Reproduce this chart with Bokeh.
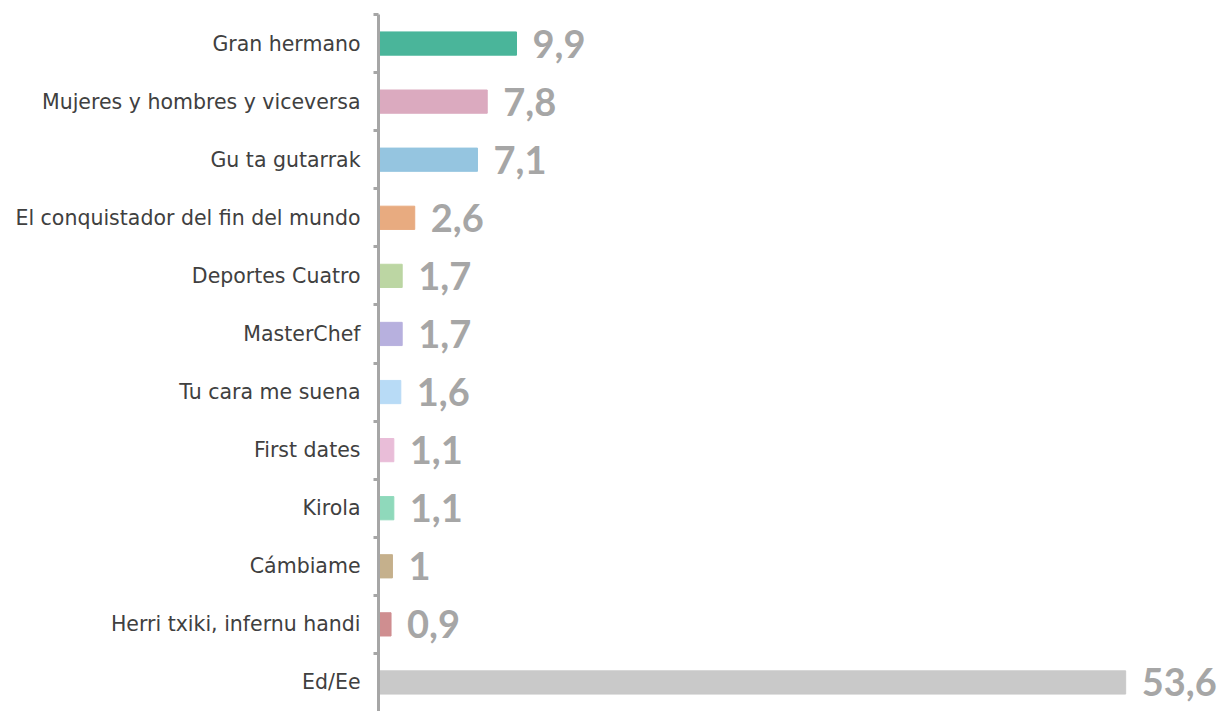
from bokeh.plotting import figure
from bokeh.models import ColumnDataSource, Range1d, FixedTicker
from bokeh.core.properties import value
from bokeh.embed import file_html
from bokeh.resources import INLINE

categories = ["Gran hermano", "Mujeres y hombres y viceversa", "Gu ta gutarrak",
              "El conquistador del fin del mundo", "Deportes Cuatro", "MasterChef",
              "Tu cara me suena", "First dates", "Kirola", "Cámbiame",
              "Herri txiki, infernu handi", "Ed/Ee"]
values = [9.9, 7.8, 7.1, 2.6, 1.7, 1.7, 1.6, 1.1, 1.1, 1.0, 0.9, 53.6]
value_labels = ["9,9", "7,8", "7,1", "2,6", "1,7", "1,7", "1,6", "1,1", "1,1", "1", "0,9", "53,6"]
colors = ["#4ab59a", "#dbaabf", "#95c5e0", "#e8ab80", "#bcd6a3", "#b7b0de",
          "#b8dbf6", "#e9bdd8", "#8fd9bb", "#c5b08c", "#cf8e90", "#c9c9c9"]

n = len(categories)
ypos = [n - 1 - i for i in range(n)]

src = ColumnDataSource(dict(y=ypos, v=values, lab=value_labels, c=colors, cat=categories))

p = figure(width=1219, height=711, output_backend="svg", toolbar_location=None,
           x_range=Range1d(0, 60.33), y_range=Range1d(-0.5, n - 0.5),
           min_border_left=378, min_border_right=0, min_border_top=14, min_border_bottom=0)
p.outline_line_color = None
p.xgrid.visible = False
p.ygrid.visible = False
p.xaxis.visible = False

p.hbar(y="y", left=0, right="v", height=0.4, color="c", source=src)
p.text(x="v", y="y", text="lab", source=src, x_offset=16, text_baseline="middle",
       text_align="left", text_font=value("Lato"), text_font_style="bold",
       text_font_size="38px", text_color="#a6a6a6")

ax = p.yaxis[0]
ax.ticker = FixedTicker(ticks=ypos, minor_ticks=[k + 0.5 for k in range(0, n)])
ax.major_label_overrides = {float(y): c for y, c in zip(ypos, categories)}
ax.major_label_text_font = "DejaVu Sans"
ax.major_label_text_font_size = "20.5px"
ax.major_label_text_color = "#404040"
ax.major_label_standoff = 13
ax.major_tick_line_color = None
ax.major_tick_out = 0
ax.major_tick_in = 0
ax.minor_tick_line_color = "#a6a6a6"
ax.minor_tick_line_width = 3
ax.minor_tick_out = 5
ax.minor_tick_in = 0
ax.axis_line_color = "#a6a6a6"
ax.axis_line_width = 3

open("out.html", "w").write(file_html(p, INLINE))
